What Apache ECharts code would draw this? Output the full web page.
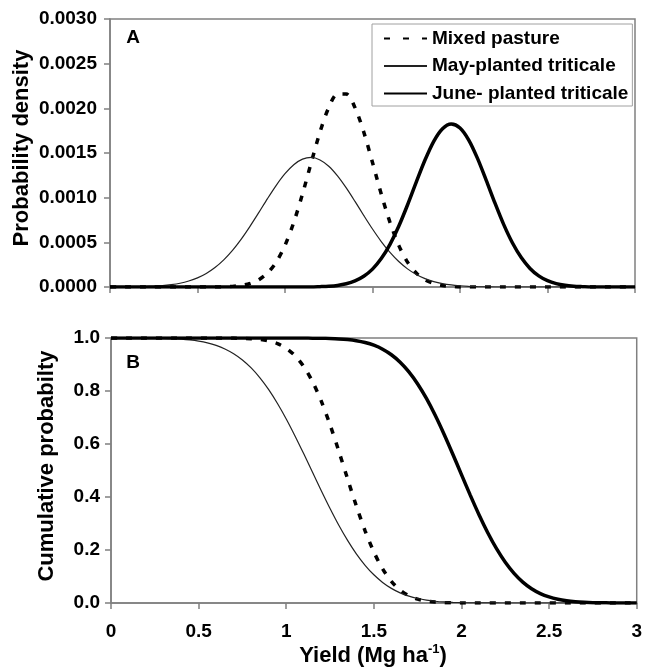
<!DOCTYPE html>
<html>
<head>
<meta charset="utf-8">
<script src="https://cdn.jsdelivr.net/npm/echarts@6/dist/echarts.min.js"></script>
<style>
  html, body { margin: 0; padding: 0; background: #fff; }
  #chart { width: 645px; height: 667px; }
</style>
</head>
<body>
<div id="chart"></div>
<script>
// yield grid (Mg/ha), step 0.05
const yields = [
  0, 0.05, 0.1, 0.15, 0.2, 0.25, 0.3, 0.35, 0.4, 0.45,
  0.5, 0.55, 0.6, 0.65, 0.7, 0.75, 0.8, 0.85, 0.9, 0.95,
  1, 1.05, 1.1, 1.15, 1.2, 1.25, 1.3, 1.35, 1.4, 1.45,
  1.5, 1.55, 1.6, 1.65, 1.7, 1.75, 1.8, 1.85, 1.9, 1.95,
  2, 2.05, 2.1, 2.15, 2.2, 2.25, 2.3, 2.35, 2.4, 2.45,
  2.5, 2.55, 2.6, 2.65, 2.7, 2.75, 2.8, 2.85, 2.9, 2.95,
  3
];

// panel A: probability density
const mixedDensity = [
  0, 0, 0, 0, 0, 0, 0, 0, 0, 0,
  0, 0, 0, 0, 0.000007, 0.000017, 0.000039, 0.000081, 0.000156, 0.000279,
  0.000466, 0.000723, 0.001041, 0.001394, 0.001735, 0.002008, 0.002160, 0.002160, 0.002008, 0.001735,
  0.001394, 0.001041, 0.000723, 0.000466, 0.000279, 0.000156, 0.000081, 0.000039, 0.000017, 0.000007,
  0, 0, 0, 0, 0, 0, 0, 0, 0, 0,
  0, 0, 0, 0, 0, 0, 0, 0, 0, 0,
  0
];
const mayDensity = [
  0, 0.000001, 0.000001, 0.000003, 0.000005, 0.000009, 0.000015, 0.000026, 0.000042, 0.000067,
  0.000102, 0.000152, 0.000218, 0.000304, 0.000410, 0.000536, 0.000679, 0.000832, 0.000989, 0.001138,
  0.001268, 0.001369, 0.001431, 0.001450, 0.001422, 0.001352, 0.001244, 0.001109, 0.000958, 0.000801,
  0.000649, 0.000509, 0.000387, 0.000285, 0.000203, 0.000140, 0.000094, 0.000061, 0.000038, 0.000023,
  0.000014, 0.000008, 0.000004, 0.000002, 0, 0, 0, 0, 0, 0,
  0, 0, 0, 0, 0, 0, 0, 0, 0, 0,
  0
];
const juneDensity = [
  0, 0, 0, 0, 0, 0, 0, 0, 0, 0,
  0, 0, 0, 0, 0, 0, 0, 0, 0, 0,
  0, 0, 0, 0, 0.000004, 0.000009, 0.000018, 0.000036, 0.000068, 0.000120,
  0.000200, 0.000318, 0.000478, 0.000680, 0.000918, 0.001174, 0.001421, 0.001631, 0.001772, 0.001825,
  0.001780, 0.001645, 0.001440, 0.001194, 0.000938, 0.000698, 0.000492, 0.000329, 0.000208, 0.000125,
  0.000071, 0.000038, 0.000019, 0.000009, 0.000004, 0, 0, 0, 0, 0,
  0
];

// panel B: cumulative (exceedance) probability
const mixedCumul = [
  1, 1, 1, 1, 1, 1, 1, 1, 1, 1,
  1, 1, 1, 0.9999, 0.9996, 0.9990, 0.9976, 0.9947, 0.9890, 0.9786,
  0.9611, 0.9332, 0.8920, 0.8350, 0.7615, 0.6726, 0.5730, 0.4685, 0.3662, 0.2726,
  0.1927, 0.1288, 0.0815, 0.0487, 0.0274, 0.0145, 0.0072, 0.0034, 0.0015, 0.0006,
  0.0002, 0.0001, 0, 0, 0, 0, 0, 0, 0, 0,
  0, 0, 0, 0, 0, 0, 0, 0, 0, 0,
  0
];
const mayCumul = [
  1, 1, 1, 0.9998, 0.9995, 0.9992, 0.9985, 0.9974, 0.9955, 0.9926,
  0.9882, 0.9816, 0.9721, 0.9588, 0.9407, 0.9171, 0.8871, 0.8497, 0.8051, 0.7530,
  0.6946, 0.6305, 0.5628, 0.4930, 0.4235, 0.3564, 0.2932, 0.2361, 0.1854, 0.1423,
  0.1064, 0.0777, 0.0552, 0.0382, 0.0258, 0.0169, 0.0108, 0.0067, 0.0040, 0.0024,
  0.0014, 0.0007, 0.0004, 0.0002, 0.0001, 0, 0, 0, 0, 0,
  0, 0, 0, 0, 0, 0, 0, 0, 0, 0,
  0
];
const juneCumul = [
  1, 1, 1, 1, 1, 1, 1, 1, 1, 1,
  1, 1, 1, 1, 1, 1, 1, 1, 1, 1,
  1, 1, 0.9998, 0.9995, 0.9990, 0.9981, 0.9966, 0.9940, 0.9897, 0.9829,
  0.9727, 0.9577, 0.9369, 0.9087, 0.8722, 0.8266, 0.7719, 0.7085, 0.6380, 0.5624,
  0.4844, 0.4071, 0.3332, 0.2653, 0.2050, 0.1539, 0.1120, 0.0790, 0.0539, 0.0356,
  0.0228, 0.0141, 0.0084, 0.0048, 0.0027, 0.0014, 0.0008, 0.0004, 0.0002, 0.0001,
  0
];

const seriesNames = ['Mixed pasture', 'May-planted triticale', 'June- planted triticale'];

const font = '"Liberation Sans", Arial, sans-serif';
const frameColor = '#808080';

const chart = echarts.init(document.getElementById('chart'));

function pairs(arr) {
  return yields.map((x, i) => [x, arr[i]]);
}

const styles = [
  { color: '#000', width: 3.5, type: [6, 9] },
  { color: '#222', width: 1.2, type: 'solid' },
  { color: '#000', width: 3.5, type: 'solid' }
];

function makeSeries(name, data, idx, styleIdx) {
  return {
    name: name,
    type: 'line',
    xAxisIndex: idx,
    yAxisIndex: idx,
    data: pairs(data),
    smooth: 0.3,
    symbol: 'none',
    animation: false,
    lineStyle: styles[styleIdx]
  };
}

function xAxisCfg(gridIndex, showLabels) {
  return {
    type: 'value',
    gridIndex: gridIndex,
    min: 0,
    max: 3,
    interval: 0.5,
    splitLine: { show: false },
    axisLine: { lineStyle: { color: frameColor, width: 1.5 } },
    axisTick: { length: 6, lineStyle: { color: frameColor, width: 1.5 } },
    axisLabel: {
      show: showLabels,
      margin: 19,
      color: '#000',
      fontSize: 19,
      fontWeight: 'bold',
      fontFamily: font
    }
  };
}

const option = {
  backgroundColor: '#fff',
  animation: false,
  grid: [
    { left: 110, top: 19, width: 525, height: 268, show: true, borderColor: frameColor, borderWidth: 1.5 },
    { left: 111, top: 338, width: 526, height: 265, show: true, borderColor: frameColor, borderWidth: 1.5 }
  ],
  legend: {
    orient: 'vertical',
    left: 372,
    top: 24,
    padding: [5, 4, 3, 11],
    itemGap: 8.5,
    itemWidth: 43,
    itemHeight: 20,
    backgroundColor: '#fff',
    borderColor: '#a0a0a0',
    borderWidth: 1,
    // hide the marker that ECharts puts in the middle of a line icon
    itemStyle: { color: 'rgba(0,0,0,0)', borderWidth: 0, opacity: 0 },
    textStyle: { fontSize: 19, fontWeight: 'bold', fontFamily: font, color: '#000' },
    data: [
      { name: seriesNames[0], lineStyle: { type: [6, 13] } },
      { name: seriesNames[1] },
      { name: seriesNames[2] }
    ]
  },
  xAxis: [xAxisCfg(0, false), xAxisCfg(1, true)],
  yAxis: [
    {
      type: 'value',
      gridIndex: 0,
      min: 0,
      max: 0.003,
      interval: 0.0005,
      splitLine: { show: false },
      axisLine: { show: true, lineStyle: { color: frameColor, width: 1.5 } },
      axisTick: { show: true, length: 6, lineStyle: { color: frameColor, width: 1.5 } },
      axisLabel: {
        margin: 13,
        color: '#000',
        fontSize: 19,
        fontWeight: 'bold',
        fontFamily: font,
        formatter: v => v.toFixed(4)
      }
    },
    {
      type: 'value',
      gridIndex: 1,
      min: 0,
      max: 1,
      interval: 0.2,
      splitLine: { show: false },
      axisLine: { show: true, lineStyle: { color: frameColor, width: 1.5 } },
      axisTick: { show: true, length: 6, lineStyle: { color: frameColor, width: 1.5 } },
      axisLabel: {
        margin: 11,
        color: '#000',
        fontSize: 19,
        fontWeight: 'bold',
        fontFamily: font,
        formatter: v => v.toFixed(1)
      }
    }
  ],
  graphic: [
    {
      type: 'text', x: 22, y: 148, rotation: Math.PI / 2,
      style: { text: 'Probability density', font: 'bold 22px ' + font, fill: '#000', textAlign: 'center', textVerticalAlign: 'middle' }
    },
    {
      type: 'text', x: 47, y: 466, rotation: Math.PI / 2,
      style: { text: 'Cumulative probabilty', font: 'bold 22px ' + font, fill: '#000', textAlign: 'center', textVerticalAlign: 'middle' }
    },
    {
      type: 'text', x: 373, y: 655,
      style: {
        text: '{n|Yield (Mg ha}{s|-1}{n|)}',
        textAlign: 'center', textVerticalAlign: 'middle',
        rich: {
          n: { fontSize: 22, fontWeight: 'bold', fontFamily: font, fill: '#000', lineHeight: 24, verticalAlign: 'bottom' },
          s: { fontSize: 13, fontWeight: 'bold', fontFamily: font, fill: '#000', lineHeight: 14, verticalAlign: 'top' }
        }
      }
    },
    {
      type: 'text', x: 133, y: 38,
      style: { text: 'A', font: 'bold 19px ' + font, fill: '#000', textAlign: 'center', textVerticalAlign: 'middle' }
    },
    {
      type: 'text', x: 133, y: 363,
      style: { text: 'B', font: 'bold 19px ' + font, fill: '#000', textAlign: 'center', textVerticalAlign: 'middle' }
    }
  ],
  series: [
    makeSeries(seriesNames[0], mixedDensity, 0, 0),
    makeSeries(seriesNames[1], mayDensity, 0, 1),
    makeSeries(seriesNames[2], juneDensity, 0, 2),
    makeSeries(seriesNames[0], mixedCumul, 1, 0),
    makeSeries(seriesNames[1], mayCumul, 1, 1),
    makeSeries(seriesNames[2], juneCumul, 1, 2)
  ]
};

chart.setOption(option);
</script>
</body>
</html>
